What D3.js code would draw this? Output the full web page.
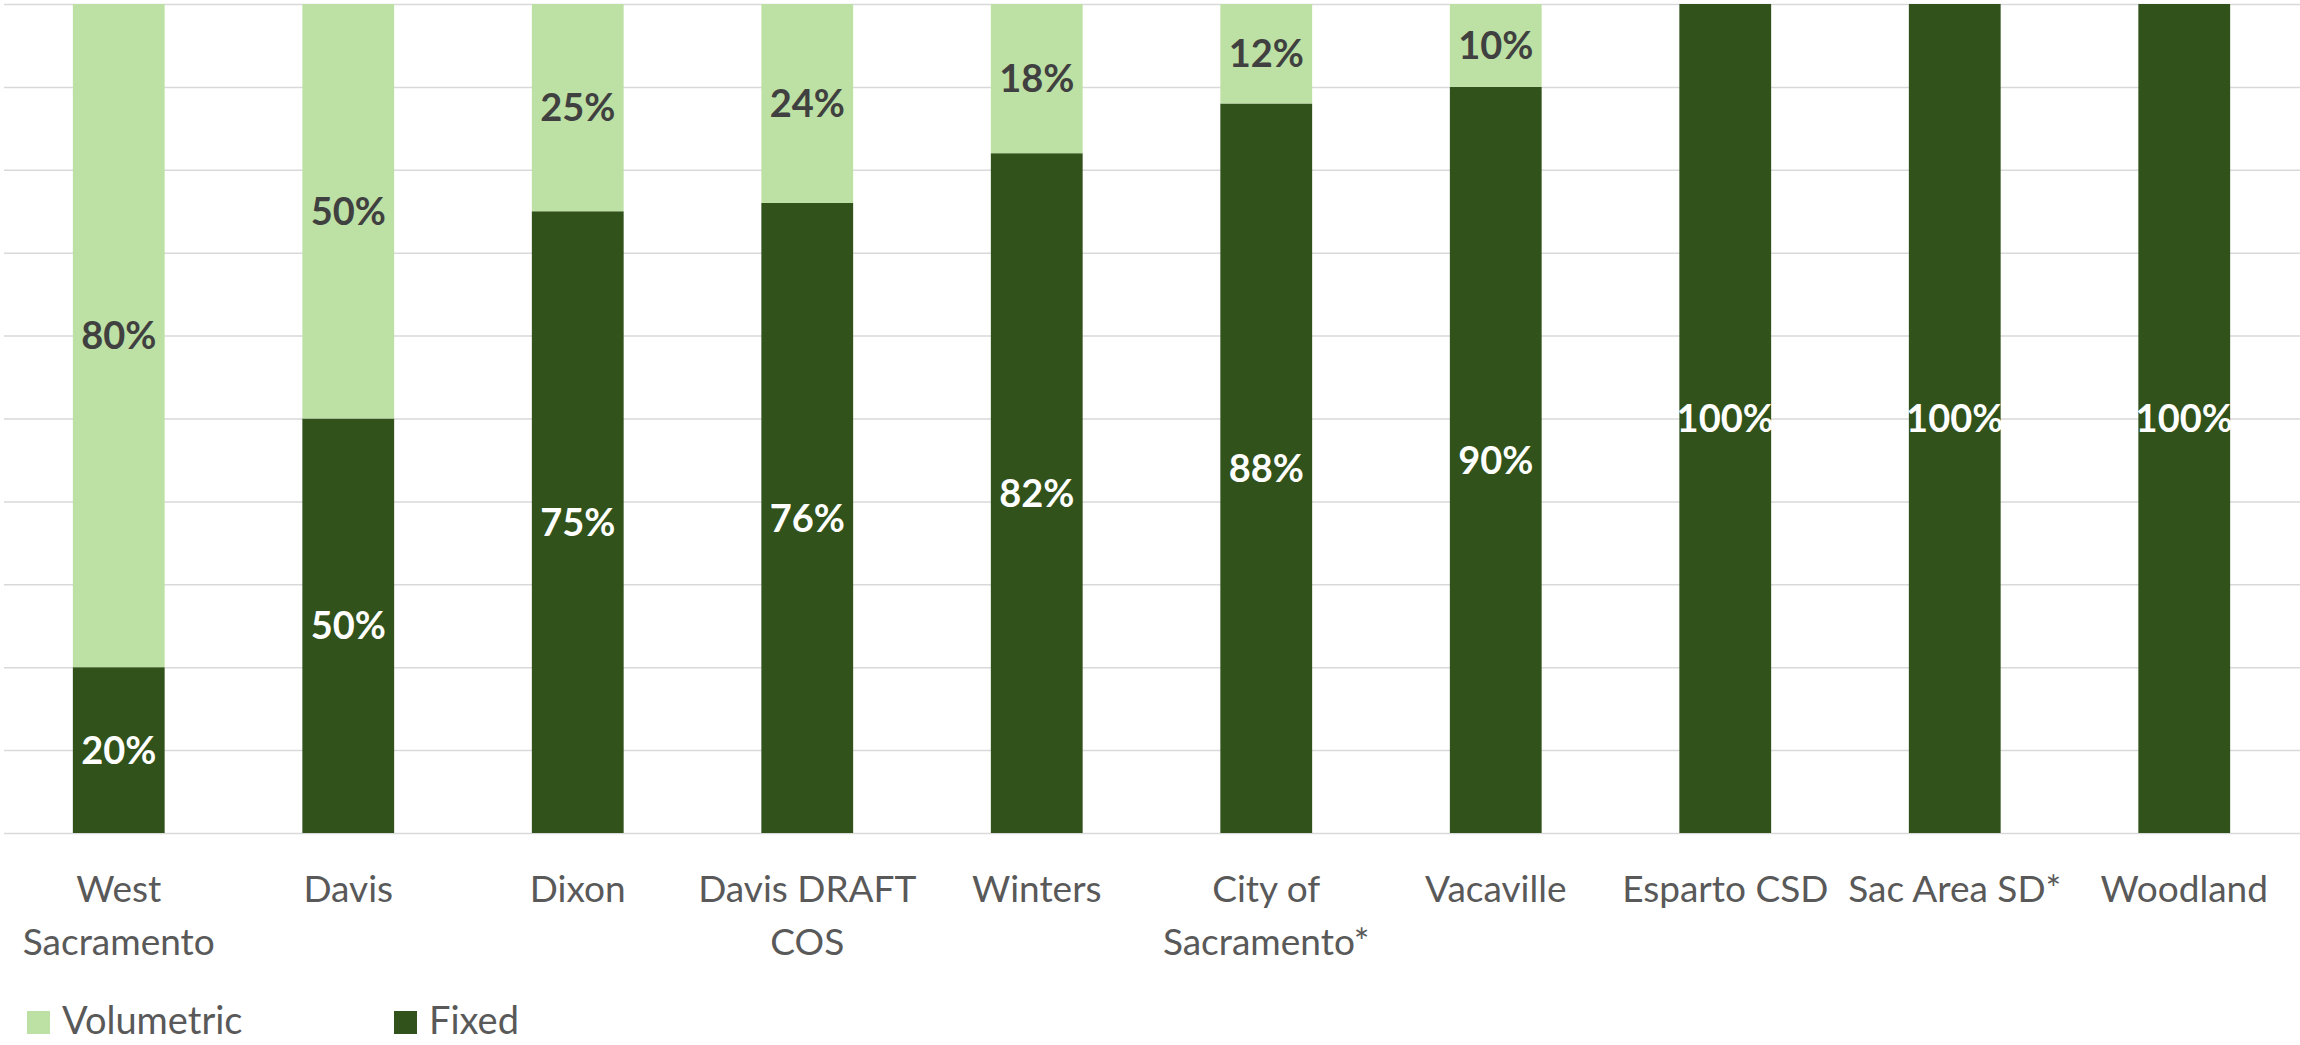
<html lang='eng'>

<head>
    <title>
        Fixed vs Volumetric
    </title>
    <script src="https://d3js.org/d3.v7.min.js" charset="utf-8"></script>
    <style>
        body {
            margin: 0;
            background: #fff;
        }

        text {
            font-family: Lato, 'Open Sans', sans-serif;
        }
    </style>
</head>

<body>
    <script>
        // data
        var categories = ['West Sacramento', 'Davis', 'Dixon', 'Davis DRAFT COS', 'Winters',
            'City of Sacramento*', 'Vacaville', 'Esparto CSD', 'Sac Area SD*', 'Woodland'];
        var tickLines = [['West', 'Sacramento'], ['Davis'], ['Dixon'], ['Davis DRAFT', 'COS'], ['Winters'],
            ['City of', 'Sacramento*'], ['Vacaville'], ['Esparto CSD'], ['Sac Area SD*'], ['Woodland']];
        var fixed = [20, 50, 75, 76, 82, 88, 90, 100, 100, 100];
        var volumetric = [80, 50, 25, 24, 18, 12, 10, 0, 0, 0];
        var seriesNames = ['Volumetric', 'Fixed'];
        var colors = { Volumetric: '#bde0a4', Fixed: '#31521b' };

        // canvas
        var width = 2300, height = 1045;
        var plot = { left: 4, right: 2299, top: 4, bottom: 833 };

        var svg = d3.select('body')
            .append('svg')
            .attr('width', width)
            .attr('height', height);

        // scales
        var x = d3.scaleBand().domain(categories).range([plot.left, plot.right])
            .paddingInner(0.6).paddingOuter(0.3);
        var y = d3.scaleLinear().domain([0, 100]).range([plot.bottom, plot.top]);

        // gridlines
        var grid = svg.append('g')
            .attr('transform', 'translate(' + plot.left + ',0)')
            .call(d3.axisLeft(y).tickValues(d3.range(0, 101, 10)).tickSize(-(width - plot.left)).tickFormat(''));
        grid.select('.domain').remove();
        grid.selectAll('line').attr('stroke', '#d9d9d9').attr('stroke-width', 1.5);

        // stacked rows
        var rows = categories.map(function (c, i) {
            return { cat: c, Fixed: fixed[i], Volumetric: volumetric[i] };
        });
        var stack = d3.stack().keys(['Fixed', 'Volumetric'])(rows);

        var layers = svg.selectAll('g.layer').data(stack).enter()
            .append('g').attr('class', 'layer')
            .attr('fill', function (d) { return colors[d.key]; });

        layers.selectAll('rect').data(function (d) { return d; }).enter()
            .append('rect')
            .attr('x', function (d) { return x(d.data.cat); })
            .attr('width', x.bandwidth())
            .attr('y', function (d) { return y(d[1]); })
            .attr('height', function (d) { return y(d[0]) - y(d[1]); });

        // value labels
        stack.forEach(function (layer) {
            svg.append('g').selectAll('text')
                .data(layer.filter(function (d) { return d[1] - d[0] > 0; })).enter()
                .append('text')
                .attr('x', function (d) { return x(d.data.cat) + x.bandwidth() / 2; })
                .attr('y', function (d) { return y((d[0] + d[1]) / 2); })
                .attr('dy', '0.36em')
                .attr('text-anchor', 'middle')
                .attr('font-size', 38)
                .attr('font-weight', 'bold')
                .attr('fill', layer.key === 'Fixed' ? '#ffffff' : '#404040')
                .text(function (d) { return (d[1] - d[0]) + '%'; });
        });

        // x axis labels
        var xAxis = svg.append('g')
            .attr('transform', 'translate(0,' + plot.bottom + ')')
            .call(d3.axisBottom(x).tickSize(0).tickFormat(''));
        xAxis.select('.domain').remove();
        xAxis.selectAll('.tick').each(function (d, i) {
            var t = d3.select(this).append('text')
                .attr('text-anchor', 'middle')
                .attr('font-size', 37)
                .attr('fill', '#595959');
            tickLines[i].forEach(function (line, j) {
                t.append('tspan').attr('x', 0).attr('y', 69 + j * 53).text(line);
            });
        });

        // legend
        var legendX = [27, 394];
        var legend = svg.selectAll('g.legend').data(seriesNames).enter()
            .append('g').attr('class', 'legend')
            .attr('transform', function (d, i) { return 'translate(' + legendX[i] + ',1011)'; });
        legend.append('rect').attr('width', 23).attr('height', 23)
            .attr('fill', function (d) { return colors[d]; });
        legend.append('text').attr('x', 35).attr('y', 23)
            .attr('font-size', 38).attr('fill', '#595959')
            .text(function (d) { return d; });
    </script>
</body>

</html>
